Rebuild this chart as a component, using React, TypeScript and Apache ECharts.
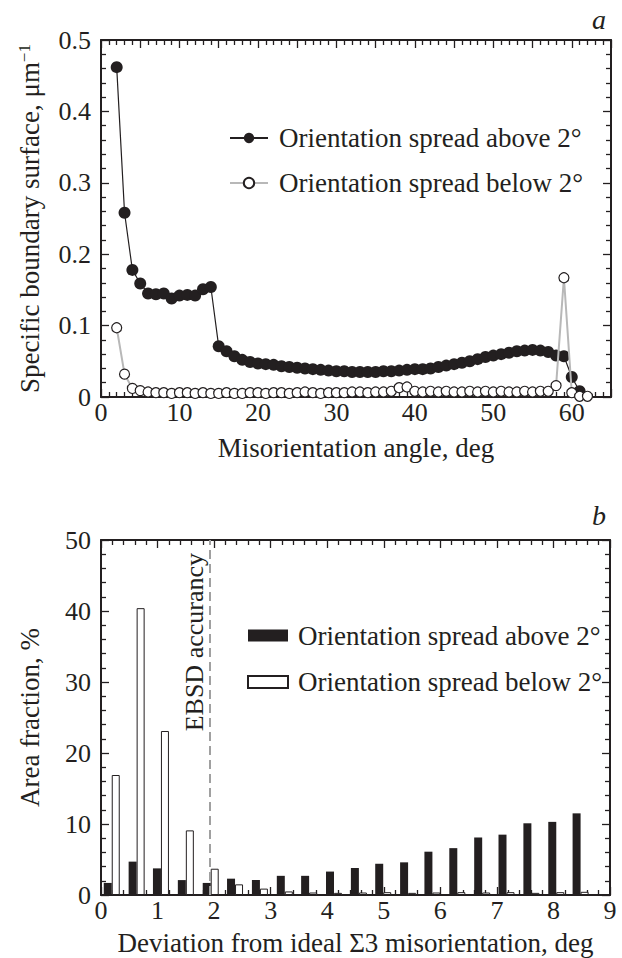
import React, { useEffect, useRef } from 'react';
import * as echarts from 'echarts';

// ---------- Panel a : specific boundary surface ----------
const anglesAbove = [2, 3, 4, 5, 6, 7, 8, 9, 10, 11, 12, 13, 14, 15, 16, 17, 18, 19, 20, 21, 22, 23, 24, 25, 26, 27, 28, 29, 30, 31, 32, 33, 34, 35, 36, 37, 38, 39, 40, 41, 42, 43, 44, 45, 46, 47, 48, 49, 50, 51, 52, 53, 54, 55, 56, 57, 58, 59, 60, 61];
const surfaceAbove = [0.462, 0.258, 0.178, 0.159, 0.145, 0.144, 0.145, 0.138, 0.142, 0.143, 0.142, 0.151, 0.154, 0.071, 0.064, 0.057, 0.052, 0.049, 0.047, 0.046, 0.045, 0.043, 0.042, 0.041, 0.040, 0.039, 0.038, 0.037, 0.036, 0.036, 0.035, 0.035, 0.035, 0.035, 0.036, 0.036, 0.037, 0.038, 0.039, 0.039, 0.040, 0.042, 0.044, 0.046, 0.048, 0.050, 0.053, 0.056, 0.058, 0.060, 0.062, 0.064, 0.065, 0.066, 0.065, 0.063, 0.058, 0.057, 0.028, 0.008];
const anglesBelow = [2, 3, 4, 5, 6, 7, 8, 9, 10, 11, 12, 13, 14, 15, 16, 17, 18, 19, 20, 21, 22, 23, 24, 25, 26, 27, 28, 29, 30, 31, 32, 33, 34, 35, 36, 37, 38, 39, 40, 41, 42, 43, 44, 45, 46, 47, 48, 49, 50, 51, 52, 53, 54, 55, 56, 57, 58, 59, 60, 61, 62];
const surfaceBelow = [0.097, 0.032, 0.012, 0.009, 0.007, 0.006, 0.006, 0.005, 0.006, 0.006, 0.005, 0.006, 0.005, 0.005, 0.006, 0.005, 0.005, 0.006, 0.006, 0.005, 0.006, 0.006, 0.005, 0.006, 0.007, 0.006, 0.005, 0.006, 0.006, 0.006, 0.007, 0.007, 0.006, 0.007, 0.007, 0.008, 0.013, 0.014, 0.008, 0.007, 0.008, 0.007, 0.008, 0.007, 0.007, 0.008, 0.007, 0.008, 0.007, 0.008, 0.007, 0.007, 0.008, 0.007, 0.008, 0.008, 0.016, 0.167, 0.006, 0.001, 0.001];

// ---------- Panel b : area fraction ----------
const deviationBins = [0.19, 0.63, 1.06, 1.5, 1.94, 2.37, 2.81, 3.25, 3.68, 4.12, 4.56, 4.99, 5.43, 5.86, 6.3, 6.74, 7.17, 7.61, 8.05, 8.48];
const fractionAbove = [1.7, 4.7, 3.75, 2.1, 1.7, 2.3, 2.1, 2.7, 2.7, 3.3, 3.8, 4.4, 4.6, 6.1, 6.6, 8.1, 8.5, 10.1, 10.3, 11.5];
const fractionBelow = [16.9, 40.4, 23.1, 9.1, 3.7, 1.5, 0.9, 0.5, 0.35, 0.3, 0.35, 0.4, 0.3, 0.35, 0.4, 0.35, 0.4, 0.3, 0.4, 0.45];
const ebsdAccuracy = 2;

const legendNames = ['Orientation spread above 2°', 'Orientation spread below 2°'];
const barKeys = ['barAbove', 'barBelow'];

const FONT = "'Liberation Serif', 'Times New Roman', 'DejaVu Serif', serif";
const INK = '#231f20';
const FS = 26;
const FS_TITLE = 27;
const FS_LEGEND = 27;

function zip(xs: number[], ys: number[]) {
  return xs.map((x, i) => [x, ys[i]]);
}

function makeAxis(o: any) {
  const showLabel = o.showLabel !== false;
  return {
    type: 'value',
    gridIndex: o.grid,
    position: o.position,
    min: o.min,
    max: o.max,
    interval: o.interval,
    name: o.name,
    nameLocation: 'middle',
    nameGap: o.nameGap,
    nameRotate: o.nameRotate,
    nameTextStyle: { fontFamily: FONT, fontSize: FS_TITLE, color: INK, rich: o.rich },
    axisLine: { show: true, onZero: false, lineStyle: { color: INK, width: 2 } },
    axisTick: { show: true, inside: true, length: 8, lineStyle: { color: INK, width: 1.3 } },
    minorTick: { show: true, splitNumber: o.minorSplit, length: 5, lineStyle: { color: INK, width: 1.3 } },
    splitLine: { show: false },
    minorSplitLine: { show: false },
    axisLabel: {
      show: showLabel,
      margin: o.labelMargin,
      fontFamily: FONT,
      fontSize: FS,
      color: INK,
      formatter: o.formatter,
    },
  };
}

export default function App() {
  const ref = useRef<HTMLDivElement>(null);

  useEffect(() => {
    if (!ref.current) return;
    const chart = echarts.init(ref.current, undefined, { renderer: 'svg' });

    const option: any = {
      animation: false,
      backgroundColor: '#ffffff',
      textStyle: { fontFamily: FONT },
      grid: [
        { left: 101, top: 40, width: 510, height: 357 },
        { left: 101, top: 540, width: 509, height: 355 },
      ],
      xAxis: [
        makeAxis({
          grid: 0, position: 'bottom', min: 0, max: 65, interval: 5, minorSplit: 5,
          name: 'Misorientation angle, deg', nameGap: 37, labelMargin: 2,
          formatter: (v: number) => (v % 10 === 0 ? String(v) : ''),
        }),
        makeAxis({ grid: 0, position: 'top', min: 0, max: 65, interval: 5, minorSplit: 5, showLabel: false }),
        makeAxis({
          grid: 1, position: 'bottom', min: 0, max: 9, interval: 1, minorSplit: 5,
          name: 'Deviation from ideal Σ3 misorientation, deg', nameGap: 34, labelMargin: 2,
          formatter: (v: number) => String(v),
        }),
        makeAxis({ grid: 1, position: 'top', min: 0, max: 9, interval: 1, minorSplit: 5, showLabel: false }),
      ],
      yAxis: [
        makeAxis({
          grid: 0, position: 'left', min: 0, max: 0.5, interval: 0.1, minorSplit: 5,
          name: 'Specific boundary surface, μm{sup|−1}', nameGap: 58, nameRotate: 90, labelMargin: 10,
          rich: { sup: { fontFamily: FONT, fontSize: 17, color: INK, verticalAlign: 'top', lineHeight: 17 } },
          formatter: (v: number) => (v === 0 ? '0' : v.toFixed(1)),
        }),
        makeAxis({ grid: 0, position: 'right', min: 0, max: 0.5, interval: 0.1, minorSplit: 5, showLabel: false }),
        makeAxis({
          grid: 1, position: 'left', min: 0, max: 50, interval: 10, minorSplit: 5,
          name: 'Area fraction, %', nameGap: 58, nameRotate: 90, labelMargin: 10,
          formatter: (v: number) => String(v),
        }),
        makeAxis({ grid: 1, position: 'right', min: 0, max: 50, interval: 10, minorSplit: 5, showLabel: false }),
      ],
      legend: [
        {
          orient: 'vertical', left: 229, top: 124.5, padding: 0,
          itemWidth: 38, itemHeight: 13, itemGap: 18, selectedMode: false,
          data: legendNames,
          textStyle: { fontFamily: FONT, fontSize: FS_LEGEND, lineHeight: 27, color: INK, padding: [0, 0, 0, 6] },
        },
        {
          orient: 'vertical', left: 247, top: 622, padding: 0,
          itemWidth: 40, itemHeight: 12, itemGap: 19.5, selectedMode: false, icon: 'rect',
          data: barKeys,
          formatter: (name: string) => legendNames[barKeys.indexOf(name)],
          textStyle: { fontFamily: FONT, fontSize: FS_LEGEND, lineHeight: 27, color: INK, padding: [0, 0, 0, 5] },
        },
      ],
      series: [
        {
          name: legendNames[0], type: 'line', xAxisIndex: 0, yAxisIndex: 0,
          data: zip(anglesAbove, surfaceAbove),
          symbol: 'circle', symbolSize: 12, showSymbol: true,
          lineStyle: { color: INK, width: 1.2 },
          itemStyle: { color: INK, borderColor: INK, borderWidth: 0 },
          z: 3,
        },
        {
          name: legendNames[1], type: 'line', xAxisIndex: 0, yAxisIndex: 0,
          data: zip(anglesBelow, surfaceBelow),
          symbol: 'circle', symbolSize: 10, showSymbol: true,
          lineStyle: { color: '#b8b8b8', width: 2 },
          itemStyle: { color: '#ffffff', borderColor: INK, borderWidth: 1.2 },
          z: 4,
        },
        {
          name: barKeys[0], type: 'bar', xAxisIndex: 2, yAxisIndex: 2,
          data: zip(deviationBins, fractionAbove),
          barWidth: 8, barGap: '0%',
          itemStyle: { color: INK, borderColor: INK, borderWidth: 0 },
          markLine: {
            silent: true, symbol: 'none', animation: false,
            label: { show: false },
            lineStyle: { color: '#a0a0a0', type: [9, 5], width: 2 },
            data: [{ xAxis: ebsdAccuracy }],
          },
        },
        {
          name: barKeys[1], type: 'bar', xAxisIndex: 2, yAxisIndex: 2,
          data: zip(deviationBins, fractionBelow),
          barWidth: 8, barGap: '0%',
          itemStyle: { color: '#ffffff', borderColor: INK, borderWidth: 1 },
        },
      ],
    };

    chart.setOption(option);

    const top = chart.convertToPixel({ xAxisIndex: 2, yAxisIndex: 2 } as any, [ebsdAccuracy, 50]) as number[];
    chart.setOption({
      graphic: [
        {
          type: 'text', x: top[0] - 20, y: top[1] + 13, rotation: Math.PI / 2,
          style: { text: 'EBSD accurancy', fontFamily: FONT, fontSize: FS, fill: INK, align: 'right', verticalAlign: 'middle' },
        },
        {
          type: 'text', x: 606, y: 19,
          style: { text: 'a', fontFamily: FONT, fontSize: 28, fontStyle: 'italic', fill: INK, align: 'right', verticalAlign: 'middle' },
        },
        {
          type: 'text', x: 606, y: 515,
          style: { text: 'b', fontFamily: FONT, fontSize: 28, fontStyle: 'italic', fill: INK, align: 'right', verticalAlign: 'middle' },
        },
      ],
    });

    return () => chart.dispose();
  }, []);

  return (
    <div
      ref={ref}
      style={{ position: 'absolute', left: 0, top: 0, width: 622, height: 958, background: '#fff' }}
    />
  );
}
